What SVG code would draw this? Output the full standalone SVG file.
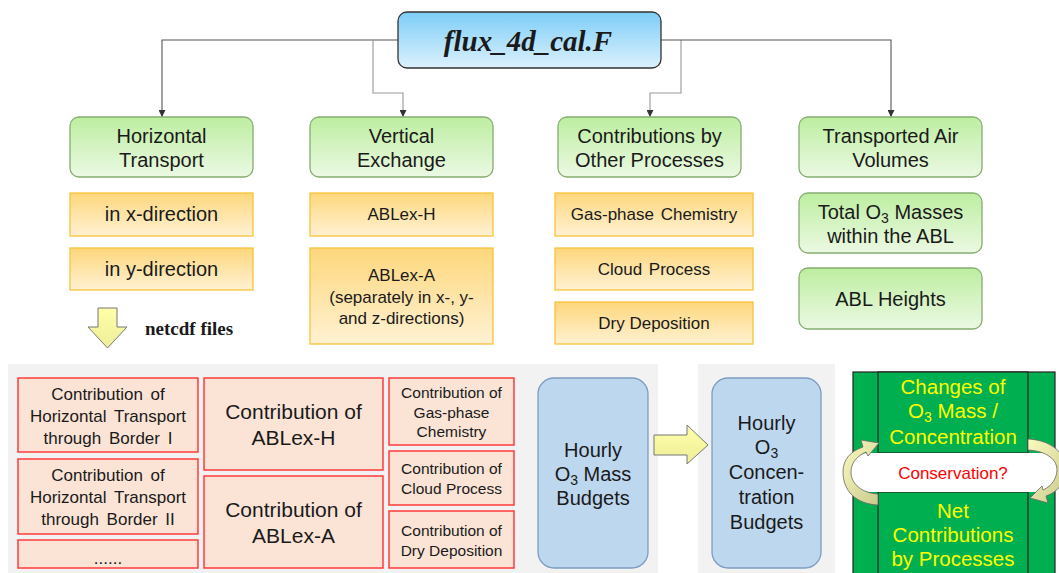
<svg xmlns="http://www.w3.org/2000/svg" width="1059" height="573" viewBox="0 0 1059 573">
<defs>
<linearGradient id="gBlue" x1="0" y1="0" x2="0" y2="1"><stop offset="0" stop-color="#7dcdf7"/><stop offset="1" stop-color="#dcf1fd"/></linearGradient>
<linearGradient id="gGreen" x1="0" y1="0" x2="0" y2="1"><stop offset="0" stop-color="#bdeea0"/><stop offset="1" stop-color="#ecf9e4"/></linearGradient>
<linearGradient id="gOrange" x1="0" y1="0" x2="0" y2="1"><stop offset="0" stop-color="#fdd77c"/><stop offset="1" stop-color="#fff1d2"/></linearGradient>
<linearGradient id="gYellow" x1="0" y1="0" x2="0" y2="1"><stop offset="0" stop-color="#ffffa8"/><stop offset="1" stop-color="#eeee9a"/></linearGradient>
<linearGradient id="gCurl" x1="0" y1="0" x2="1" y2="1"><stop offset="0" stop-color="#fbfbc0"/><stop offset="1" stop-color="#c9c98e"/></linearGradient>
<marker id="ah" viewBox="0 0 8 8" refX="8" refY="4" markerWidth="7" markerHeight="7" markerUnits="userSpaceOnUse" orient="auto">
<path d="M0,0 L8,4 L0,8 Z" fill="#333"/>
</marker>
</defs>
<style>
text{font-family:"Liberation Sans",Arial,sans-serif;fill:#1a1a1a;text-anchor:middle}
.g{fill:url(#gGreen);stroke:#86ad72;stroke-width:1.3}
.o{fill:url(#gOrange);stroke:#f9c43a;stroke-width:1.3}
.r{fill:#fbe4d6;stroke:#ff3b3b;stroke-width:1.5}
.b{fill:#bdd7ee;stroke:#7d9cc2;stroke-width:1.3}
.t20{font-size:20px}
.t17{font-size:17px}
.t16{font-size:15.5px}
.t21{font-size:21px}
.y{fill:#ffff00;font-size:20.5px}
.c1{fill:none;stroke:#555;stroke-width:1.1}
.c2{fill:none;stroke:#999;stroke-width:1.1}
</style>
<rect width="1059" height="573" fill="#ffffff"/>

<g id="connectors">
<path class="c1" d="M398,40 H162 V117" marker-end="url(#ah)"/>
<path class="c2" d="M373,40 V93 H403 V117" marker-end="url(#ah)"/>
<path class="c2" d="M681,40 V93 H650 V117" marker-end="url(#ah)"/>
<path class="c1" d="M661,40 H891 V117" marker-end="url(#ah)"/>
</g>

<g id="root">
<rect x="398" y="12" width="263" height="56" rx="9" fill="url(#gBlue)" stroke="#333" stroke-width="1.3"/>
<text x="528" y="51" style="font-family:'Liberation Serif','Times New Roman',serif;font-weight:bold;font-style:italic;font-size:29px">flux_4d_cal.F</text>
</g>

<g id="horizontal-transport">
<rect class="g" x="70" y="117" width="183" height="60" rx="9"/>
<text class="t20" x="161.5" y="143">Horizontal</text>
<text class="t20" x="161.5" y="167">Transport</text>
</g>
<g id="vertical-exchange">
<rect class="g" x="310" y="117" width="183" height="60" rx="9"/>
<text class="t20" x="401.5" y="143">Vertical</text>
<text class="t20" x="401.5" y="167">Exchange</text>
</g>
<g id="other-processes">
<rect class="g" x="558" y="117" width="183" height="60" rx="9"/>
<text class="t20" x="649.5" y="143">Contributions by</text>
<text class="t20" x="649.5" y="167">Other Processes</text>
</g>
<g id="air-volumes">
<rect class="g" x="799" y="117" width="183" height="60" rx="9"/>
<text class="t20" x="890.5" y="143">Transported Air</text>
<text class="t20" x="890.5" y="167">Volumes</text>
</g>

<g id="x-direction">
<rect class="o" x="70" y="193" width="183" height="43"/>
<text class="t20" x="161.5" y="221">in x-direction</text>
</g>
<g id="y-direction">
<rect class="o" x="70" y="248" width="183" height="42"/>
<text class="t20" x="161.5" y="276">in y-direction</text>
</g>
<g id="ablex-h">
<rect class="o" x="310" y="193" width="183" height="43"/>
<text class="t17" x="401.5" y="220">ABLex-H</text>
</g>
<g id="ablex-a">
<rect class="o" x="310" y="248" width="183" height="96"/>
<text class="t17" x="401.5" y="281">ABLex-A</text>
<text class="t17" x="401.5" y="303">(separately in x-, y-</text>
<text class="t17" x="401.5" y="324">and z-directions)</text>
</g>
<g id="gas-phase">
<rect class="o" x="555" y="193" width="198" height="43"/>
<text class="t17" x="654" y="220" style="word-spacing:2px">Gas-phase Chemistry</text>
</g>
<g id="cloud">
<rect class="o" x="555" y="248" width="198" height="42"/>
<text class="t17" x="654" y="275" style="word-spacing:2px">Cloud Process</text>
</g>
<g id="dry-deposition">
<rect class="o" x="555" y="302" width="198" height="42"/>
<text class="t17" x="654" y="329">Dry Deposition</text>
</g>
<g id="total-o3">
<rect class="g" x="799" y="193" width="183" height="60" rx="9"/>
<text class="t20" x="890.5" y="219">Total O<tspan font-size="14" dy="4">3</tspan><tspan dy="-4"> Masses</tspan></text>
<text class="t20" x="890.5" y="243">within the ABL</text>
</g>
<g id="abl-heights">
<rect class="g" x="799" y="268" width="183" height="61" rx="9"/>
<text class="t20" x="890.5" y="306">ABL Heights</text>
</g>

<g id="netcdf">
<polygon points="98,308 117,308 117,327 127,327 107.5,348 88,327 98,327" fill="url(#gYellow)" stroke="#777" stroke-width="1"/>
<text x="145" y="335" style="font-family:'Liberation Serif','Times New Roman',serif;font-weight:bold;font-size:19px;text-anchor:start">netcdf files</text>
</g>

<rect x="8" y="364" width="650" height="209" fill="#f2f2f2"/>
<rect x="698" y="364" width="137" height="209" fill="#f2f2f2"/>

<g id="border-1">
<rect class="r" x="18" y="378" width="180" height="74"/>
<text class="t17" x="108" y="400" style="word-spacing:3px">Contribution of</text>
<text class="t17" x="108" y="422" style="word-spacing:3px">Horizontal Transport</text>
<text class="t17" x="108" y="444" style="word-spacing:3px">through Border I</text>
</g>
<g id="border-2">
<rect class="r" x="18" y="459" width="180" height="75"/>
<text class="t17" x="108" y="481" style="word-spacing:3px">Contribution of</text>
<text class="t17" x="108" y="503" style="word-spacing:3px">Horizontal Transport</text>
<text class="t17" x="108" y="525" style="word-spacing:3px">through Border II</text>
</g>
<g id="border-more">
<rect class="r" x="18" y="540" width="180" height="28"/>
<text class="t17" x="108" y="564">......</text>
</g>
<g id="contrib-ablex-h">
<rect class="r" x="204" y="378" width="179" height="92"/>
<text class="t21" x="293.5" y="419">Contribution of</text>
<text class="t21" x="293.5" y="445">ABLex-H</text>
</g>
<g id="contrib-ablex-a">
<rect class="r" x="204" y="476" width="179" height="92"/>
<text class="t21" x="293.5" y="517">Contribution of</text>
<text class="t21" x="293.5" y="543">ABLex-A</text>
</g>
<g id="contrib-gas">
<rect class="r" x="389" y="378" width="125" height="67"/>
<text class="t16" x="451.5" y="398">Contribution of</text>
<text class="t16" x="451.5" y="418">Gas-phase</text>
<text class="t16" x="451.5" y="437">Chemistry</text>
</g>
<g id="contrib-cloud">
<rect class="r" x="389" y="451" width="125" height="54"/>
<text class="t16" x="451.5" y="474">Contribution of</text>
<text class="t16" x="451.5" y="494">Cloud Process</text>
</g>
<g id="contrib-dry">
<rect class="r" x="389" y="511" width="125" height="57"/>
<text class="t16" x="451.5" y="536">Contribution of</text>
<text class="t16" x="451.5" y="556">Dry Deposition</text>
</g>

<g id="mass-budgets">
<rect class="b" x="538" y="378" width="110" height="190" rx="16"/>
<text class="t20" x="593" y="457">Hourly</text>
<text class="t20" x="593" y="481">O<tspan font-size="14" dy="4">3</tspan><tspan dy="-4"> Mass</tspan></text>
<text class="t20" x="593" y="505">Budgets</text>
</g>
<g id="to-concentration">
<polygon points="654,435 687,435 687,425 708,445 687,464 687,455 654,455" fill="url(#gYellow)" stroke="#777" stroke-width="1"/>
</g>
<g id="conc-budgets">
<rect class="b" x="712" y="378" width="109" height="190" rx="16"/>
<text class="t20" x="766.5" y="430">Hourly</text>
<text class="t20" x="766.5" y="454">O<tspan font-size="14" dy="4">3</tspan></text>
<text class="t20" x="766.5" y="479">Concen-</text>
<text class="t20" x="766.5" y="504">tration</text>
<text class="t20" x="766.5" y="529">Budgets</text>
</g>

<g id="conservation">
<rect x="853" y="372" width="202" height="210" fill="#00b050" stroke="#222" stroke-width="1.2"/>
<rect x="878" y="372" width="150" height="81" fill="#00b050" stroke="#222" stroke-width="1.2"/>
<rect x="878" y="492" width="150" height="90" fill="#00b050" stroke="#222" stroke-width="1.2"/>
<text class="y" x="953" y="394">Changes of</text>
<text class="y" x="953" y="418">O<tspan font-size="14" dy="4">3</tspan><tspan dy="-4"> Mass /</tspan></text>
<text class="y" x="953" y="444">Concentration</text>
<rect x="849" y="453" width="215" height="39" rx="19.5" fill="#ffffff"/>
<path d="M878,505 C856,504 843,491 843,472 C843,459 851,451 863,447 L861,440 L879,443 L868,456 L866,452 C857,456 851,463 851,472 C851,484 862,493 878,494 Z" fill="url(#gCurl)" stroke="#666" stroke-width="0.8"/>
<path d="M1028,439 C1050,440 1065,452 1066,468 C1066,482 1058,492 1046,496 L1048,503 L1030,498 L1042,486 L1043,490 C1052,486 1057,478 1057,469 C1056,458 1045,451 1028,450 Z" fill="url(#gCurl)" stroke="#666" stroke-width="0.8"/>
<text x="953" y="479" style="fill:#ff0000;font-size:17px">Conservation?</text>
<text class="y" x="953" y="518">Net</text>
<text class="y" x="953" y="542">Contributions</text>
<text class="y" x="953" y="566">by Processes</text>
</g>
</svg>
